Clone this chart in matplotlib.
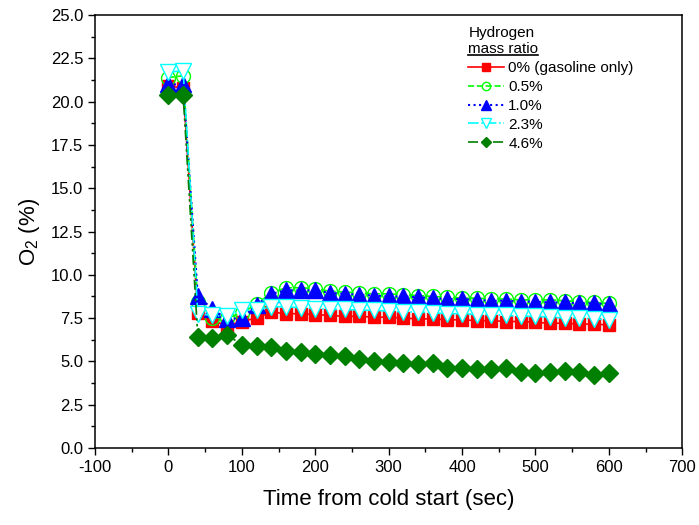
import numpy as np
import matplotlib
matplotlib.use('Agg')
import matplotlib.pyplot as plt
from matplotlib.lines import Line2D

plt.rcParams['font.family'] = ['Liberation Sans', 'DejaVu Sans']
plt.rcParams['mathtext.fontset'] = 'custom'
plt.rcParams['mathtext.rm'] = 'Liberation Sans'
plt.rcParams['mathtext.it'] = 'Liberation Sans'
plt.rcParams['axes.unicode_minus'] = False

# time from cold start (sec), one reading every 20 s
t = np.arange(0, 601, 20)

o2_0 = [20.9, 20.8, 7.8, 7.35, 7.05, 7.3, 7.5,
        7.85, 7.75, 7.75, 7.7, 7.65, 7.6, 7.6, 7.55, 7.55, 7.5, 7.45, 7.45,
        7.4, 7.4, 7.35, 7.35, 7.3, 7.3, 7.25, 7.2, 7.2, 7.15, 7.15, 7.1]
o2_05 = [21.4, 21.5, 8.4, 7.5, 7.5, 7.8, 8.3,
         8.95, 9.25, 9.25, 9.2, 9.05, 9.0, 8.95, 8.9, 8.9, 8.85, 8.8, 8.75,
         8.7, 8.65, 8.65, 8.6, 8.6, 8.55, 8.55, 8.55, 8.5, 8.45, 8.4, 8.35]
o2_10 = [21.0, 21.0, 8.8, 8.0, 7.45, 7.5, 8.25,
         8.9, 9.1, 9.1, 9.1, 8.95, 8.9, 8.85, 8.8, 8.75, 8.75, 8.7, 8.65,
         8.6, 8.6, 8.55, 8.5, 8.5, 8.45, 8.45, 8.4, 8.4, 8.35, 8.35, 8.3]
o2_23 = [21.7, 21.8, 7.75, 7.65, 7.6, 7.95, 7.95,
         8.15, 8.15, 8.1, 8.05, 8.0, 8.0, 7.95, 7.95, 7.9, 7.85, 7.85, 7.8,
         7.75, 7.75, 7.7, 7.7, 7.65, 7.6, 7.6, 7.55, 7.5, 7.5, 7.45, 7.4]
o2_46 = [20.4, 20.4, 6.43, 6.34, 6.53, 5.95, 5.86,
         5.83, 5.6, 5.52, 5.42, 5.37, 5.29, 5.14, 5.02, 4.95, 4.89, 4.85, 4.89,
         4.6, 4.6, 4.56, 4.56, 4.6, 4.41, 4.33, 4.37, 4.45, 4.41, 4.21, 4.33]

labels = ['0% (gasoline only)', '0.5%', '1.0%', '2.3%', '4.6%']

fig = plt.figure(figsize=(6.99, 5.25), dpi=100)
ax = fig.add_axes([0.136, 0.147, 0.840, 0.824])

ax.plot(t, o2_0, color='red', ls='-', lw=1.2, marker='s', ms=9,
        label=labels[0])
ax.plot(t, o2_05, color='#00ff00', ls='--', lw=1.2, marker='o', ms=10,
        mfc='none', mew=1.0, label=labels[1])
ax.plot(t, o2_10, color='blue', ls=':', lw=1.5, marker='^', ms=11,
        label=labels[2])
ax.plot(t, o2_23, color='cyan', ls='-.', lw=1.2, marker='v', ms=11,
        mfc='white', mew=1.0, label=labels[3])
ax.plot(t, o2_46, color='green', ls=(0, (6, 2, 1.5, 2, 1.5, 2)), lw=1.2,
        marker='D', ms=9, label=labels[4])

ax.set_xlim(-100, 700)
ax.set_ylim(0, 25)
ax.set_xticks(np.arange(-100, 701, 100))
ax.set_xticks(np.arange(-50, 701, 100), minor=True)
ax.set_yticks(np.arange(0, 25.1, 2.5))
ax.set_yticks(np.arange(1.25, 25, 2.5), minor=True)
ax.yaxis.set_major_formatter(matplotlib.ticker.FormatStrFormatter('%.1f'))
ax.tick_params(which='major', direction='out', length=5, width=1,
               labelsize=12)
ax.tick_params(which='minor', direction='out', length=3, width=1)
for s in ax.spines.values():
    s.set_linewidth(1.1)

ax.set_xlabel('Time from cold start (sec)', fontsize=16, labelpad=10)
ax.set_ylabel('O$_2$ (%)', fontsize=16, labelpad=6)

leg = ax.legend(title='Hydrogen\nmass ratio', loc='upper left',
                bbox_to_anchor=(0.636, 0.975), frameon=False, fontsize=11,
                title_fontsize=11, handlelength=2.3, handletextpad=0.3,
                labelspacing=0.32, borderpad=0, borderaxespad=0,
                markerscale=0.6, alignment='left')

# underline the second line of the legend title
fig.canvas.draw()
bb = leg.get_title().get_window_extent()
inv = fig.transFigure.inverted()
(x0, y0), (x1, _) = inv.transform([(bb.x0, bb.y0 + 1), (bb.x1, bb.y0 + 1)])
fig.add_artist(Line2D([x0, x1], [y0, y0], color='black', lw=1.2,
                      transform=fig.transFigure))

fig.savefig('out.png', dpi=100)
